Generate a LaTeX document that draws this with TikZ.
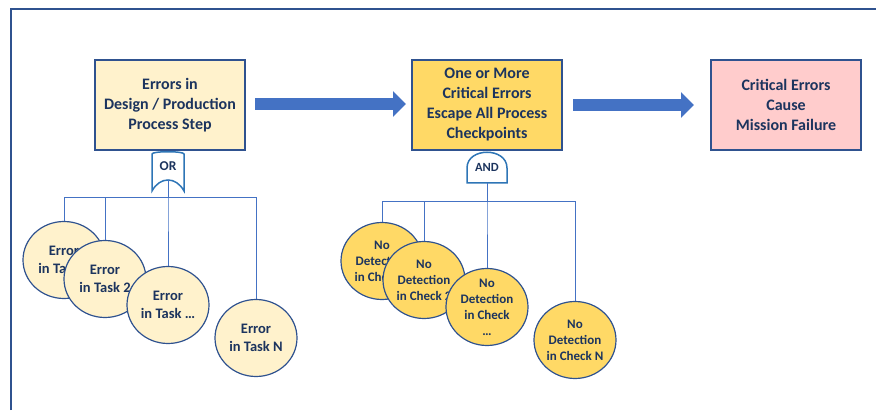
\documentclass[tikz,border=0pt]{standalone}
\usepackage{fontspec}
\setmainfont{Carlito}
\usetikzlibrary{positioning,shapes.geometric,arrows.meta}
\pgfdeclarelayer{background}
\pgfsetlayers{background,main}
\definecolor{navy}{RGB}{28,52,94}
\definecolor{edge}{RGB}{47,82,143}
\definecolor{blockblue}{RGB}{68,114,196}
\definecolor{gateblue}{RGB}{46,117,182}
\definecolor{paleyellow}{RGB}{255,242,204}
\definecolor{gold}{RGB}{255,217,102}
\definecolor{rose}{RGB}{255,204,204}

\begin{document}
\begin{tikzpicture}[
    box/.style={draw=edge,line width=1.5pt,minimum width=150pt,minimum height=90pt,outer sep=0pt,align=center,text=navy,font=\fontsize{16}{20}\selectfont\bfseries},
    task/.style={ellipse,draw=edge,line width=1.2pt,fill=paleyellow,minimum width=82pt,minimum height=77pt,inner sep=-8pt,outer sep=0pt,align=center,text=navy,font=\fontsize{14.5}{18}\selectfont\bfseries},
    check/.style={task,fill=gold,font=\fontsize{13}{16}\selectfont\bfseries},
    gatetext/.style={inner sep=0pt,outer sep=0pt,text=navy,font=\fontsize{13.5}{15}\selectfont\bfseries},
    gate/.style={draw=gateblue,line width=1.5pt,fill=white},
    wire/.style={draw=blockblue,line width=1pt},
    bigarrow/.style={draw=blockblue,line width=12pt,-{Triangle[length=13pt,width=25pt]}},
    frame/.style={draw=edge,line width=2pt}]
      \useasboundingbox (0,0) rectangle (876pt,410pt);
      \draw[frame] (11pt,0pt) |- (876pt,401pt);

      \node[box,fill=paleyellow] (1) at (170pt,305pt) {Errors in\\Design / Production\\Process Step};
      \node[box,fill=gold,right=167pt of 1] (2) {One or More\\Critical Errors\\Escape All Process\\Checkpoints};
      \node[box,fill=rose,right=149pt of 2] (3) {Critical Errors\\Cause\\Mission Failure};

      \draw[bigarrow] ([xshift=10pt,yshift=1pt]1.east) -- ([xshift=-6pt,yshift=1pt]2.west);
      \draw[bigarrow] ([xshift=11pt]2.east) -- ([xshift=-17pt]3.west);

      \node[gatetext,minimum width=32pt,minimum height=28pt,below=2pt of 1,xshift=-2pt] (g1) {OR};
      \node[gatetext,font=\fontsize{12.5}{14}\selectfont\bfseries,minimum width=40pt,minimum height=31pt,below=2pt of 2] (g2) {AND};
      \begin{pgfonlayer}{background}
        \draw[gate] ([yshift=-2pt]g1.north west) .. controls ([yshift=1pt]g1.north west) and ([yshift=1pt]g1.north east) .. ([yshift=-2pt]g1.north east)
          -- ([yshift=-11pt]g1.south east) .. controls ([xshift=-8pt,yshift=3.7pt]g1.south east) and ([xshift=8pt,yshift=3.7pt]g1.south west) .. ([yshift=-11pt]g1.south west) -- cycle;
        \draw[gate] (g2.south west) -- ([yshift=15pt]g2.south west) .. controls ([yshift=5pt]g2.north west) and ([yshift=5pt]g2.north east) .. ([yshift=15pt]g2.south east) -- (g2.south east) -- cycle;
      \end{pgfonlayer}

      \node[task] (e1) at (64pt,150pt) {Error\\in Task 1};
      \node[task] (e2) at (105pt,131pt) {Error\\in Task 2};
      \node[task] (e3) at (168pt,105pt) {Error\\in Task …};
      \node[task] (e4) at (256pt,72pt) {Error\\in Task N};
      \coordinate (j1) at ([yshift=-18pt]g1.south);
      \foreach \n in {1,...,4}
        \draw[wire] (g1.south) -- (j1) -| (e\n.north);

      \node[check] (d1) at (382pt,149pt) {No\\Detection\\in Check 1};
      \node[check] (d2) at (424pt,130pt) {No\\Detection\\in Check 2};
      \node[check] (d3) at (487pt,103pt) {No\\Detection\\in Check\\…};
      \node[check] (d4) at (575pt,70pt) {No\\Detection\\in Check N};
      \coordinate (j2) at ([yshift=-19pt]g2.south);
      \foreach \n in {1,...,4}
        \draw[wire] (g2.south) -- (j2) -| (d\n.north);
    \end{tikzpicture}
\end{document}
